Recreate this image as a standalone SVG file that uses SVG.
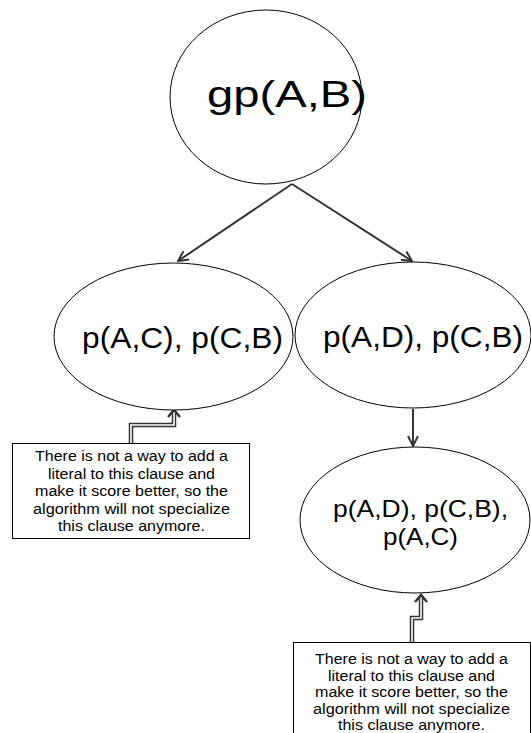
<svg xmlns="http://www.w3.org/2000/svg" width="531" height="733" viewBox="0 0 531 733">
<defs>
<style>
.node{fill:#fff;stroke:#000;stroke-width:1}
.t{font-family:"Liberation Sans",Arial,sans-serif;fill:#000}
.big{font-size:37px}
.mid{font-size:30px}
.sm{font-size:24px}
.note{font-size:14px}
.edge{fill:none;stroke:#333;stroke-width:2}
.linkO{fill:none;stroke:#333;stroke-width:4.5}
.linkI{fill:none;stroke:#fff;stroke-width:1.6}
</style>
<marker id="ah" viewBox="0 0 12 12" refX="11" refY="6" markerWidth="12" markerHeight="12" markerUnits="userSpaceOnUse" orient="auto">
<path d="M1,1 L11,6 L1,11" fill="none" stroke="#333" stroke-width="2"/>
</marker>
</defs>
<rect width="531" height="733" fill="#fff"/>

<g id="connectors">
<line class="edge" x1="292" y1="184" x2="178" y2="261" marker-end="url(#ah)"/>
<line class="edge" x1="292" y1="184" x2="412" y2="261" marker-end="url(#ah)"/>
<line class="edge" x1="413" y1="409" x2="413" y2="446" marker-end="url(#ah)"/>
<path class="linkO" d="M131,443 V425 H174 V413"/>
<path class="linkI" d="M131,444 V425 H174 V412"/>
<path d="M168,417 L174,410 L180,417" fill="none" stroke="#333" stroke-width="2.5"/>
<path class="linkO" d="M412,642 V618 H421 V598"/>
<path class="linkI" d="M412,643 V618 H421 V597"/>
<path d="M415,602 L421,595 L427,602" fill="none" stroke="#333" stroke-width="2.5"/>
</g>

<g id="n-gp">
<ellipse class="node" cx="266" cy="97" rx="96" ry="87"/>
<text class="t big" x="207" y="107" textLength="160" lengthAdjust="spacingAndGlyphs">gp(A,B)</text>
</g>

<g id="n-left">
<ellipse class="node" cx="173.5" cy="336.5" rx="119.5" ry="73.5"/>
<text class="t mid" x="82" y="348" textLength="201" lengthAdjust="spacingAndGlyphs">p(A,C), p(C,B)</text>
</g>

<g id="n-right">
<ellipse class="node" cx="413" cy="335" rx="118" ry="73"/>
<text class="t mid" x="323" y="347" textLength="200" lengthAdjust="spacingAndGlyphs">p(A,D), p(C,B)</text>
</g>

<g id="n-bottom">
<ellipse class="node" cx="415" cy="520" rx="115" ry="73"/>
<text class="t sm" x="333" y="517" textLength="175" lengthAdjust="spacingAndGlyphs">p(A,D), p(C,B),</text>
<text class="t sm" x="383" y="545" textLength="75" lengthAdjust="spacingAndGlyphs">p(A,C)</text>
</g>

<g id="note-left">
<rect x="12.5" y="443.5" width="237" height="95" fill="#fff" stroke="#000" stroke-width="1"/>
<g class="t note" text-anchor="middle">
<text x="131.5" y="461" textLength="193" lengthAdjust="spacingAndGlyphs">There is not a way to add a</text>
<text x="131.5" y="478.5" textLength="167" lengthAdjust="spacingAndGlyphs">literal to this clause and</text>
<text x="131.5" y="496" textLength="193" lengthAdjust="spacingAndGlyphs">make it score better, so the</text>
<text x="131.5" y="513.5" textLength="197" lengthAdjust="spacingAndGlyphs">algorithm will not specialize</text>
<text x="131.5" y="531" textLength="147" lengthAdjust="spacingAndGlyphs">this clause anymore.</text>
</g>
</g>

<g id="note-right">
<rect x="293.5" y="642.5" width="237" height="100" fill="#fff" stroke="#000" stroke-width="1"/>
<g class="t note" text-anchor="middle">
<text x="411.5" y="664" textLength="193" lengthAdjust="spacingAndGlyphs">There is not a way to add a</text>
<text x="411.5" y="680.5" textLength="167" lengthAdjust="spacingAndGlyphs">literal to this clause and</text>
<text x="411.5" y="697" textLength="193" lengthAdjust="spacingAndGlyphs">make it score better, so the</text>
<text x="411.5" y="713.5" textLength="197" lengthAdjust="spacingAndGlyphs">algorithm will not specialize</text>
<text x="411.5" y="729.5" textLength="147" lengthAdjust="spacingAndGlyphs">this clause anymore.</text>
</g>
</g>
</svg>
